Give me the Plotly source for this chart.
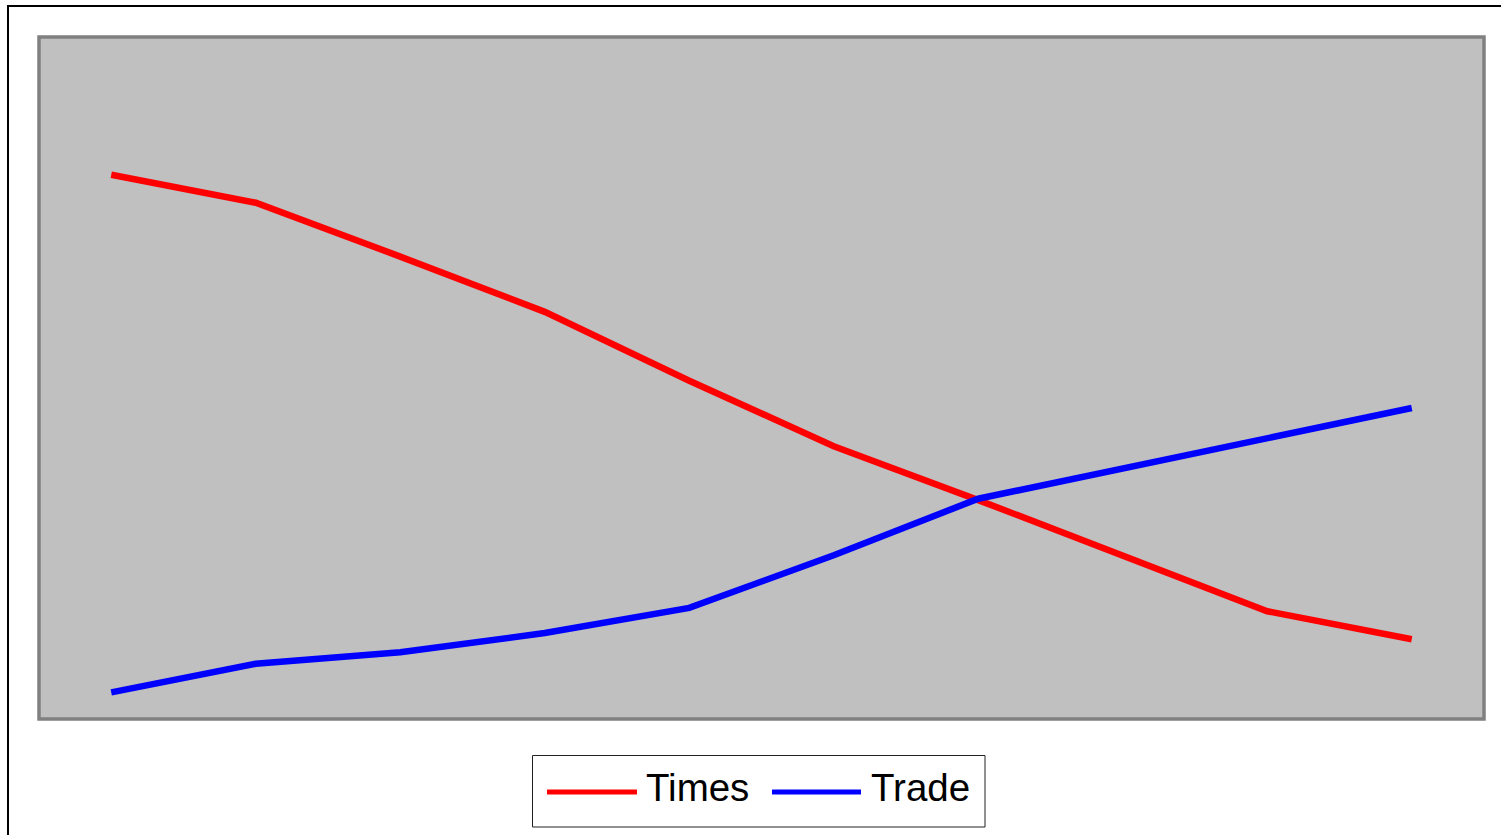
import plotly.graph_objects as go

# Series data
periods = ["1", "2", "3", "4", "5", "6", "7", "8", "9", "10"]
series_names = ["Times", "Trade"]
times_values = [79.8, 75.7, 67.8, 59.7, 49.6, 40.0, 32.1, 24.0, 15.8, 11.7]
trade_values = [3.9, 8.1, 9.8, 12.6, 16.3, 24.0, 32.3, 36.8, 41.1, 45.6]
series_colors = ["#FF0000", "#0000FF"]

W, H = 1501, 835
L, R, T, B = 39, 17, 37, 116
PW, PH = W - L - R, H - T - B


def px_x(p):
    return (p - L) / PW


def px_y(p):
    return (H - B - p) / PH


fig = go.Figure()
for name, vals, col in zip(series_names, [times_values, trade_values], series_colors):
    fig.add_trace(go.Scatter(
        x=periods, y=vals, mode="lines", name=name,
        line=dict(color=col, width=6.5), showlegend=False,
    ))

shapes = [
    # outer chart frame
    dict(type="rect", xref="paper", yref="paper",
         x0=px_x(8), x1=px_x(1503), y0=px_y(837), y1=px_y(6),
         line=dict(color="black", width=2), layer="below"),
    # plot area border
    dict(type="rect", xref="paper", yref="paper", x0=0, x1=1, y0=0, y1=1,
         line=dict(color="#808080", width=3.5)),
    # legend box
    dict(type="rect", xref="paper", yref="paper",
         x0=px_x(532.5), x1=px_x(985), y0=px_y(827), y1=px_y(755.5),
         line=dict(color="#222222", width=1)),
]
annotations = []
legend_items = [(547, 637, 644), (772, 861, 869)]
for (lx0, lx1, tx), name, col in zip(legend_items, series_names, series_colors):
    shapes.append(dict(type="line", xref="paper", yref="paper",
                       x0=px_x(lx0), x1=px_x(lx1), y0=px_y(792), y1=px_y(792),
                       line=dict(color=col, width=5)))
    annotations.append(dict(text=name, xref="paper", yref="paper",
                            x=px_x(tx), y=px_y(788), xanchor="left", yanchor="middle",
                            showarrow=False,
                            font=dict(family="Liberation Sans, Arial", size=38.5, color="black")))

fig.update_layout(
    width=W, height=H,
    margin=dict(l=L, r=R, t=T, b=B),
    paper_bgcolor="white",
    plot_bgcolor="#C0C0C0",
    xaxis=dict(type="category", range=[-0.5, 9.5], visible=False, showgrid=False),
    yaxis=dict(range=[0, 100], visible=False, showgrid=False),
    shapes=shapes,
    annotations=annotations,
)

fig.write_html("out.html")
